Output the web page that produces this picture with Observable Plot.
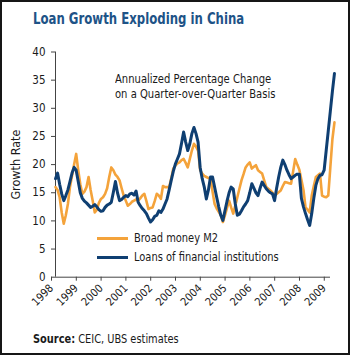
<!DOCTYPE html>
<html><head><meta charset="utf-8">
<script src="https://cdn.jsdelivr.net/npm/d3@7"></script>
<script src="https://cdn.jsdelivr.net/npm/@observablehq/plot@0.6"></script>
<style>
body{margin:0;background:#fff;}
#chart{position:relative;width:350px;height:355px;overflow:hidden;background:#fff;font-family:"Liberation Sans Narrow","DejaVu Sans Condensed",sans-serif;color:#1a1a1a;}
#chart svg{position:absolute;left:0;top:0;}
#frame{position:absolute;left:0;top:0;width:350px;height:355px;box-sizing:border-box;border:2px solid #161616;pointer-events:none;}
#title{position:absolute;left:33px;top:9px;font-weight:bold;font-size:16.5px;color:#1e5387;white-space:nowrap;transform:scaleX(0.79);transform-origin:left top;}
#note{position:absolute;left:115px;top:71px;font-size:12.5px;line-height:15px;white-space:nowrap;transform:scaleX(0.89);transform-origin:left top;}
#source{position:absolute;left:33px;top:331px;font-size:13px;white-space:nowrap;transform:scaleX(0.84);transform-origin:left top;}
.lg{position:absolute;font-size:12.5px;white-space:nowrap;transform:scaleX(0.88);transform-origin:left top;}
.sw{position:absolute;width:31px;height:3px;}
</style>
</head><body>
<div id="chart">
  <div id="title"></div>
  <div id="note"></div>
  <div id="source"><b>Source:</b> CEIC, UBS estimates</div>
</div>
<script>
const titleText = "Loan Growth Exploding in China";
const noteLines = ["Annualized Percentage Change", "on a Quarter-over-Quarter Basis"];
const yLabel = "Growth Rate";
const seriesNames = ["Broad money M2", "Loans of financial institutions"];
const seriesColors = ["#f4a33b", "#0f3f72"];
const startYear = 1998; // monthly observations from January 1998
const yearTicks = [1998,1999,2000,2001,2002,2003,2004,2005,2006,2007,2008,2009];
const yTicks = [0,5,10,15,20,25,30,35,40];

const m2Values = [
16.0,15.5,14.2,11.5,9.5,11.0,13.0,16.0,18.0,20.0,21.9,19.0,
16.5,14.8,15.2,16.0,17.8,15.5,13.6,11.5,12.0,13.2,13.9,14.2,
14.8,15.8,17.8,19.5,19.0,18.2,17.8,17.2,15.8,14.5,13.6,12.7,
13.0,13.4,13.6,13.8,13.6,14.0,14.5,14.8,13.5,12.1,12.3,12.4,
13.5,14.8,14.5,13.9,16.2,16.0,16.0,16.0,17.5,19.3,19.8,20.2,
20.4,20.8,21.0,20.3,19.5,21.0,22.5,23.7,23.2,22.5,19.0,18.4,
18.0,17.8,17.6,17.5,15.2,13.0,12.2,11.6,11.0,9.8,11.0,12.3,
13.6,12.4,11.3,12.7,14.2,15.7,17.2,18.3,19.5,20.0,20.4,19.3,
19.6,19.9,19.0,18.7,18.4,17.2,16.0,15.7,15.4,15.0,14.5,14.8,
15.1,15.4,16.2,16.9,16.8,16.7,16.6,18.8,21.0,20.0,19.1,17.3,
15.5,12.4,12.0,11.5,14.5,16.2,17.8,18.1,18.4,14.5,14.3,14.2,
14.5,19.5,24.5,27.5];

const loanValues = [
17.5,18.5,16.5,14.8,13.6,14.5,15.5,17.0,18.5,19.5,19.0,17.0,
15.0,14.0,13.5,13.2,12.8,12.4,12.6,12.9,12.5,12.0,11.7,11.8,
12.4,12.8,13.0,13.3,15.1,17.0,15.0,13.6,13.8,14.2,14.5,14.3,
14.8,14.9,14.6,15.3,13.3,12.7,12.2,11.8,11.3,10.5,9.8,10.2,
10.8,11.0,11.8,11.5,12.1,13.0,13.9,15.5,17.2,18.8,20.1,21.0,
21.9,23.8,25.8,24.0,22.5,23.7,25.5,26.6,25.5,24.0,19.5,17.5,
16.0,13.9,15.5,17.8,17.8,16.0,14.2,12.5,11.0,10.1,11.8,13.5,
15.0,16.0,15.7,13.0,11.0,11.2,11.8,12.5,13.0,13.6,15.0,16.6,
15.8,15.0,14.5,15.8,16.9,16.3,15.7,15.3,15.0,14.8,13.6,15.8,
17.8,19.5,20.8,20.0,19.0,18.2,17.5,17.8,18.1,18.3,18.3,14.0,
12.5,11.3,10.2,9.2,11.3,14.0,16.3,17.5,18.1,18.2,19.0,22.5,
26.0,29.5,33.0,36.2];

const rows = [];
m2Values.forEach((v, i) => rows.push({t: startYear + i / 12, v, s: seriesNames[0]}));
loanValues.forEach((v, i) => rows.push({t: startYear + i / 12, v, s: seriesNames[1]}));

const chart = Plot.plot({
  width: 350,
  height: 355,
  marginLeft: 55,
  marginRight: 20,
  marginTop: 51.5,
  marginBottom: 78.3,
  style: {fontFamily: '"Liberation Sans Narrow","DejaVu Sans Condensed",sans-serif', color: "#1a1a1a", background: "transparent"},
  x: {domain: [1998, 2009.09]},
  y: {domain: [0, 40]},
  color: {domain: seriesNames, range: seriesColors},
  marks: [
    Plot.axisY({ticks: yTicks, tickSize: 4, tickPadding: 6, fontSize: 11.5, label: null, stroke: "#444"}),
    Plot.axisX({ticks: yearTicks, tickFormat: d => String(d), tickSize: 4, tickPadding: 5, tickRotate: -45, fontSize: 11, label: null, stroke: "#444", dx: -4}),
    Plot.ruleY([0], {stroke: "#444"}),
    Plot.ruleX([1998], {stroke: "#444"}),
    Plot.line(rows.filter(d => d.s === seriesNames[0]), {x: "t", y: "v", stroke: "s", strokeWidth: 2.6, strokeLinejoin: "round"}),
    Plot.line(rows.filter(d => d.s === seriesNames[1]), {x: "t", y: "v", stroke: "s", strokeWidth: 3, strokeLinejoin: "round"}),
    Plot.text([yLabel], {frameAnchor: "left", dx: -40, rotate: -90, text: d => d, fontSize: 12.5, textAnchor: "middle"})
  ]
});
const root = document.getElementById("chart");
root.insertBefore(chart, root.firstChild);
document.getElementById("title").textContent = titleText;
document.getElementById("note").innerHTML = noteLines.map(l => `<div>${l}</div>`).join("");

// legend
const legendPos = [[97, 238], [97, 257]];
seriesNames.forEach((name, i) => {
  const sw = document.createElement("div");
  sw.className = "sw";
  sw.style.left = legendPos[i][0] + "px";
  sw.style.top = (legendPos[i][1] - 1.5) + "px";
  sw.style.background = seriesColors[i];
  root.appendChild(sw);
  const lb = document.createElement("div");
  lb.className = "lg";
  lb.style.left = (legendPos[i][0] + 37) + "px";
  lb.style.top = (legendPos[i][1] - 8) + "px";
  lb.textContent = name;
  root.appendChild(lb);
});
const fr = document.createElement("div");
fr.id = "frame";
root.appendChild(fr);
</script>
</body></html>
